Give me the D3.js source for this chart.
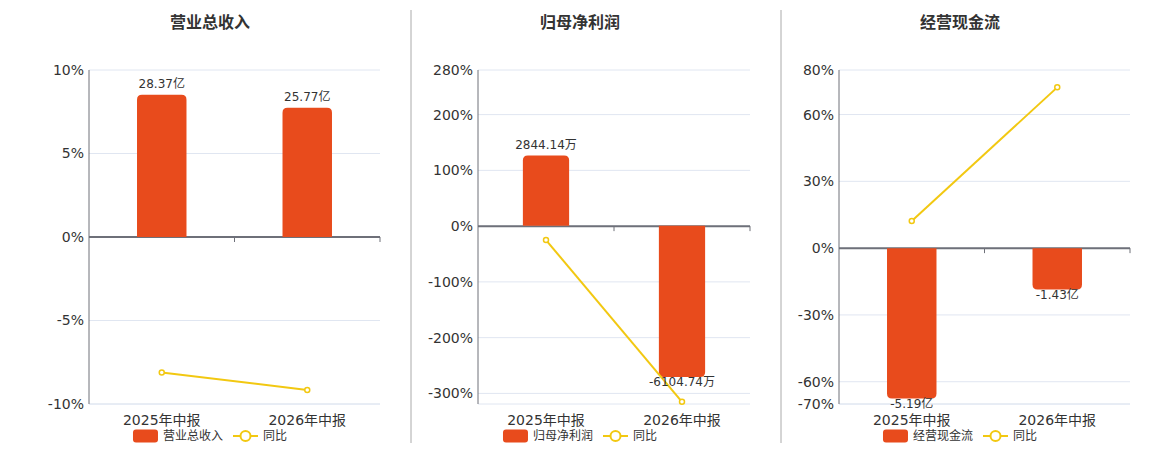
<!DOCTYPE html>
<html>
<head>
<meta charset="utf-8">
<script src="https://cdn.jsdelivr.net/npm/d3@7"></script>
<style>
  body { margin: 0; background: #fff; }
  svg { display: block; font-family: "DejaVu Sans", "Noto Sans CJK SC", sans-serif; }
</style>
</head>
<body>
<svg id="drawing_region"></svg>
<script>
const categories = ['2025年中报', '2026年中报'];
const titles = ['营业总收入', '归母净利润', '经营现金流'];
const barValues = [[28.37, 25.77], [2844.14, -6104.74], [-5.19, -1.43]];
const barLabels = [['28.37亿', '25.77亿'], ['2844.14万', '-6104.74万'], ['-5.19亿', '-1.43亿']];
const yoyValues = [[-8.12, -9.16], [-25, -315], [12.2, 72.2]];
const yTicks = [[10, 5, 0, -5, -10], [280, 200, 100, 0, -100, -200, -300], [80, 60, 30, 0, -30, -60, -70]];
const yoyName = '同比';

const config = {
    width: 1160,
    height: 450,
    top: 70,
    bottom: 404,
    panels: [
        { left: 89, right: 380, cx: 210, pct: [-10, 10], bar: [-33.3, 33.3] },
        { left: 478, right: 750, cx: 580, pct: [-319, 280], bar: [-7190, 6290] },
        { left: 839, right: 1130, cx: 960, pct: [-70, 80], bar: [-5.38, 6.15] }
    ],
    dividers: [411, 781],
    barColor: '#e84b1c',
    lineColor: '#f2c811',
    axisColor: '#6e7079',
    gridColor: '#e0e6f1',
    textColor: '#333'
};

const svg = d3.select('#drawing_region')
    .attr('width', config.width)
    .attr('height', config.height);

svg.selectAll('line.divider')
    .data(config.dividers)
    .enter()
    .append('line')
    .attr('class', 'divider')
    .attr('x1', d => d).attr('x2', d => d)
    .attr('y1', 10).attr('y2', 443)
    .attr('stroke', '#aaa')
    .attr('stroke-width', 1);

// rounded at the far end of the bar only
function barPath(x, w, y0, y1, r) {
    const h = Math.abs(y1 - y0);
    r = Math.min(r, h, w / 2);
    if (y1 < y0) {
        return `M${x},${y0}V${y1 + r}Q${x},${y1} ${x + r},${y1}H${x + w - r}Q${x + w},${y1} ${x + w},${y1 + r}V${y0}Z`;
    }
    return `M${x},${y0}V${y1 - r}Q${x},${y1} ${x + r},${y1}H${x + w - r}Q${x + w},${y1} ${x + w},${y1 - r}V${y0}Z`;
}

config.panels.forEach((p, i) => {
    const g = svg.append('g');

    const xscale = d3.scaleBand()
        .domain(categories)
        .range([p.left, p.right]);
    const yscale = d3.scaleLinear()
        .domain(p.pct)
        .range([config.bottom, config.top]);
    const bscale = d3.scaleLinear()
        .domain(p.bar)
        .range([config.bottom, config.top]);

    // title
    g.append('text')
        .attr('x', p.cx)
        .attr('y', 22)
        .attr('dy', '0.35em')
        .attr('text-anchor', 'middle')
        .attr('font-size', 16)
        .attr('font-weight', 'bold')
        .attr('fill', config.textColor)
        .text(titles[i]);

    // grid
    g.selectAll('line.grid')
        .data(yTicks[i])
        .enter()
        .append('line')
        .attr('x1', p.left).attr('x2', p.right)
        .attr('y1', d => yscale(d)).attr('y2', d => yscale(d))
        .attr('stroke', config.gridColor)
        .attr('stroke-width', 1);
    g.append('line')
        .attr('x1', p.left).attr('x2', p.right)
        .attr('y1', config.bottom).attr('y2', config.bottom)
        .attr('stroke', config.gridColor);

    // y axis
    const yaxis = d3.axisLeft(yscale)
        .tickValues(yTicks[i])
        .tickSize(0)
        .tickPadding(5)
        .tickFormat(d => d + '%');
    g.append('g')
        .attr('transform', `translate(${p.left},0)`)
        .call(yaxis)
        .attr('font-family', null)
        .attr('font-size', 14)
        .call(a => a.select('.domain').attr('stroke', config.axisColor).attr('d', `M0,${config.top}V${config.bottom}`))
        .call(a => a.selectAll('text').attr('fill', config.textColor));

    // zero line with ticks
    const y0 = yscale(0);
    const xaxis = d3.axisBottom(xscale).tickSize(5).tickFormat('');
    g.append('g')
        .attr('transform', `translate(0,${y0})`)
        .call(xaxis)
        .call(a => a.select('.domain').attr('stroke', config.axisColor).attr('stroke-width', 2)
            .attr('d', `M${p.left},0H${p.right}`))
        .call(a => a.selectAll('.tick').remove())
        .call(a => a.selectAll('line.bnd')
            .data([xscale(categories[1]), p.right])
            .enter()
            .append('line')
            .attr('x1', d => d).attr('x2', d => d)
            .attr('y1', 0).attr('y2', 5)
            .attr('stroke', config.axisColor));

    // x labels
    g.selectAll('text.xlab')
        .data(categories)
        .enter()
        .append('text')
        .attr('x', d => xscale(d) + xscale.bandwidth() / 2)
        .attr('y', 420)
        .attr('dy', '0.35em')
        .attr('text-anchor', 'middle')
        .attr('font-size', 14)
        .attr('fill', config.textColor)
        .text(d => d);

    // bars
    const bw = xscale.bandwidth() * 0.34;
    const bz = bscale(0);
    g.selectAll('path.bar')
        .data(barValues[i])
        .enter()
        .append('path')
        .attr('d', (d, j) => barPath(xscale(categories[j]) + (xscale.bandwidth() - bw) / 2, bw, bz, bscale(d), 5))
        .attr('fill', config.barColor);

    // yoy line
    const line = d3.line()
        .x((d, j) => xscale(categories[j]) + xscale.bandwidth() / 2)
        .y(d => yscale(d));
    g.append('path')
        .datum(yoyValues[i])
        .attr('d', line)
        .attr('fill', 'none')
        .attr('stroke', config.lineColor)
        .attr('stroke-width', 2);
    g.selectAll('circle.pt')
        .data(yoyValues[i])
        .enter()
        .append('circle')
        .attr('cx', (d, j) => xscale(categories[j]) + xscale.bandwidth() / 2)
        .attr('cy', d => yscale(d))
        .attr('r', 2.5)
        .attr('fill', '#fff')
        .attr('stroke', config.lineColor)
        .attr('stroke-width', 1.5);

    // bar labels
    g.selectAll('text.blab')
        .data(barValues[i])
        .enter()
        .append('text')
        .attr('x', (d, j) => xscale(categories[j]) + xscale.bandwidth() / 2)
        .attr('y', d => d >= 0 ? bscale(d) - 11 : bscale(d) + 5)
        .attr('dy', '0.35em')
        .attr('text-anchor', 'middle')
        .attr('font-size', 12)
        .attr('fill', config.textColor)
        .text((d, j) => barLabels[i][j]);

    // legend
    const lg = g.append('g');
    lg.append('rect')
        .attr('x', 0).attr('y', -6.5)
        .attr('width', 25).attr('height', 13)
        .attr('rx', 3)
        .attr('fill', config.barColor);
    const t1 = lg.append('text')
        .attr('x', 30).attr('dy', '0.35em')
        .attr('font-size', 12)
        .attr('fill', config.textColor)
        .text(titles[i]);
    const w1 = t1.node().getComputedTextLength();
    const lx = 30 + w1 + 10;
    lg.append('line')
        .attr('x1', lx).attr('x2', lx + 25)
        .attr('y1', 0).attr('y2', 0)
        .attr('stroke', config.lineColor)
        .attr('stroke-width', 2);
    lg.append('circle')
        .attr('cx', lx + 12.5).attr('cy', 0).attr('r', 5)
        .attr('fill', '#fff')
        .attr('stroke', config.lineColor)
        .attr('stroke-width', 2);
    const t2 = lg.append('text')
        .attr('x', lx + 30).attr('dy', '0.35em')
        .attr('font-size', 12)
        .attr('fill', config.textColor)
        .text(yoyName);
    const total = lx + 30 + t2.node().getComputedTextLength();
    lg.attr('transform', `translate(${p.cx - total / 2},436)`);
});
</script>
</body>
</html>
